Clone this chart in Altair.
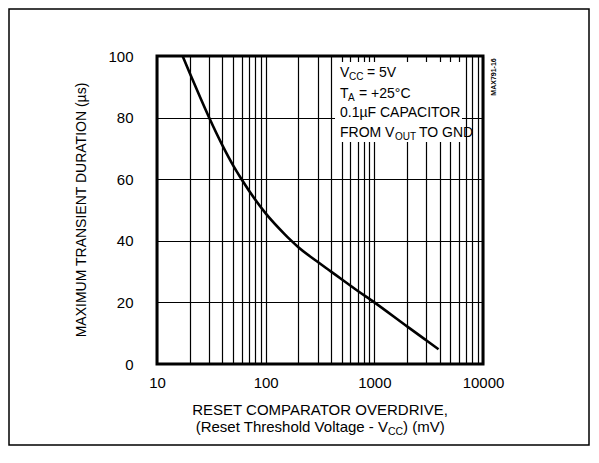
import altair as alt
import pandas as pd

# ---- data ----
overdrive_mv = [17.2, 20, 25, 30, 40, 50, 60, 80, 100, 150, 170, 200, 300, 400, 500, 700, 1000, 2000, 3000, 3900]
duration_us = [100, 94.5, 86.5, 80.2, 71.0, 64.6, 60, 53.4, 48.9, 42.1, 40.2, 37.9, 33.2, 30.0, 27.5, 23.8, 20.0, 12.2, 7.7, 4.8]

x_grid = [10, 20, 30, 40, 50, 60, 70, 80, 90,
          100, 200, 300, 400, 500, 600, 700, 800, 900,
          1000, 2000, 3000, 4000, 5000, 6000, 7000, 8000, 9000, 10000]
x_labels = [10, 100, 1000, 10000]
y_ticks = [0, 20, 40, 60, 80, 100]

FONT = "Liberation Sans, Arial, sans-serif"
W, H = 326, 308

df = pd.DataFrame({"x": overdrive_mv, "y": duration_us})
one = alt.Data(values=[{}])

label_test = " || ".join(f"datum.value == {v}" for v in x_labels)

xscale = alt.Scale(type="log", domain=[10, 10000], nice=False)
yscale = alt.Scale(domain=[0, 100], nice=False)

curve = alt.Chart(df).mark_line(color="black", strokeWidth=2.6, interpolate="monotone").encode(
    x=alt.X("x:Q", scale=xscale,
            axis=alt.Axis(values=x_grid, labelExpr=f"({label_test}) ? format(datum.value, 'd') : ''",
                          grid=True, gridColor="black", gridWidth=1.2, gridOpacity=1,
                          ticks=False, domain=False, title=None, labelOverlap=False,
                          labelFlush=False, labelFont=FONT, labelFontSize=15,
                          labelColor="black", labelPadding=11)),
    y=alt.Y("y:Q", scale=yscale,
            axis=alt.Axis(values=y_ticks, grid=True, gridColor="black", gridWidth=1.2, gridOpacity=1,
                          ticks=False, domain=False, title=None, labelFont=FONT, labelFontSize=15,
                          labelColor="black", labelPadding=24)),
)

def txt(s, x, y, size=14, align="left", angle=0, weight="normal", baseline="alphabetic"):
    return alt.Chart(one).mark_text(text=s, font=FONT, fontSize=size, align=align, baseline=baseline,
                                    angle=angle, fontWeight=weight, color="black").encode(
        x=alt.value(x), y=alt.value(y))

white_box = alt.Chart(one).mark_rect(fill="white").encode(
    x=alt.value(178), x2=alt.value(305), y=alt.value(6), y2=alt.value(86))

outer = alt.Chart(one).mark_rect(fill=None, stroke="black", strokeWidth=1.5).encode(
    x=alt.value(-148), x2=alt.value(432), y=alt.value(-47), y2=alt.value(389))

layers = [
    white_box, curve, outer,
    # annotation
    txt("V", 183, 21), txt("CC", 192, 24, size=10), txt("= 5V", 210, 21),
    txt("T", 183, 41.5), txt("A", 191, 44.5, size=10), txt("= +25°C", 202, 41.5),
    txt("0.1µF CAPACITOR", 183, 61),
    txt("FROM V", 183, 81), txt("OUT", 238, 84, size=10), txt("TO GND", 262, 81),
    # figure id
    txt("MAX791-16", 337, 21, size=7, align="center", angle=270, weight="bold", baseline="middle"),
    # y title
    txt("MAXIMUM TRANSIENT DURATION (µs)", -75, H / 2, size=14, align="center", angle=270, baseline="middle"),
    # x title
    txt("RESET COMPARATOR OVERDRIVE,", W / 2, 359, size=15, align="center"),
    txt("(Reset Threshold Voltage - V", 231, 376, size=15, align="right"),
    txt("CC", 231, 379, size=10.5),
    txt(") (mV)", 246, 376, size=15),
]

chart = alt.layer(*layers).properties(
    width=W, height=H,
    autosize=alt.AutoSizeParams(type="none"),
    padding={"left": 149, "top": 48, "right": 108, "bottom": 85},
    background="white",
).configure_view(stroke="black", strokeWidth=3)

chart.save("out.html", embed_options={"renderer": "svg", "actions": False})
